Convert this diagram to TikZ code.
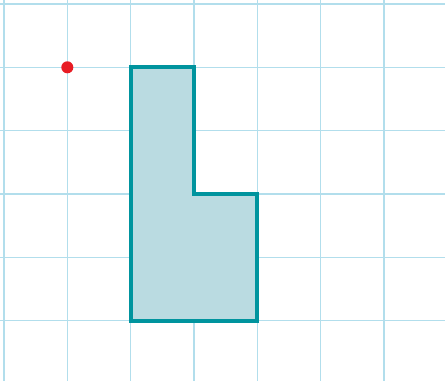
\documentclass[tikz,border=0pt]{standalone}
\usepackage{xcolor}
\usepackage{tikz}
\definecolor{gridline}{RGB}{178,222,236}
\definecolor{shapeline}{RGB}{0,148,158}
\definecolor{shapefill}{RGB}{186,219,225}
\definecolor{dotred}{RGB}{232,28,36}

\begin{document}
\begin{tikzpicture}
					\useasboundingbox (-0.063,-0.952) rectangle (6.963,5.063);
					\fill[white] (-0.063,-0.952) rectangle (6.963,5.063);
					\draw[color=gridline,line width=0.7pt] (-0.063,-0.952) grid (6.963,5.063);
					
					\coordinate (c1) at (2,4);
					\coordinate (c2) at (3,4);
					\coordinate (c3) at (3,2);
					\coordinate (c4) at (4,2);
					\coordinate (c5) at (4,0);
					\coordinate (c6) at (2,0);
					\coordinate (p) at (1,4);
					
					\draw[color=shapeline,fill=shapefill,line width=1.8pt,line join=miter] (c1) to[] (c2) to[] (c3) to[] (c4) to (c5) to (c6) -- cycle;
					
					\node (dot) at (p) [fill=dotred,circle,inner sep=0pt,minimum size=0.19cm] {};
				\end{tikzpicture}
\end{document}
